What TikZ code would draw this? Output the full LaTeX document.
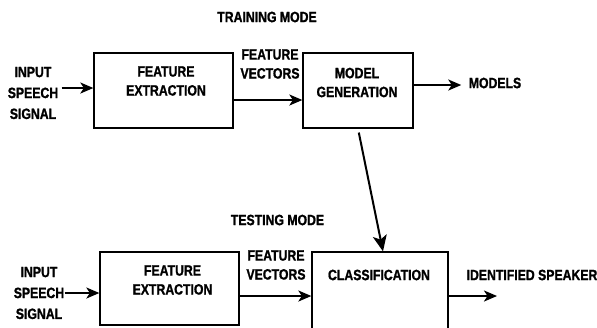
\documentclass[tikz,border=0pt]{standalone}
\usepackage{fontspec}
\setmainfont{Liberation Sans}[FakeStretch=0.82,BoldFeatures={FakeBold=1.2}]
\usetikzlibrary{arrows.meta}
\begin{document}
\begin{tikzpicture}[x=1bp,y=-1bp,>={Stealth[length=13bp,width=11bp,inset=3.5bp]},
    every node/.style={font=\fontsize{15}{19}\selectfont\bfseries,align=center},
    box node/.style={draw,line width=1.3bp,minimum width=#1,minimum height=75bp,inner sep=0pt},
    flow/.style={->,line width=2bp}]
\useasboundingbox (0,0) rectangle (597,327);
\clip (0,0) rectangle (597,327);
% training mode
\node (train) at (267,17) {TRAINING MODE};
\node[box node=139bp] (fe1) at (163.5,90.5) {};
\node[box node=110bp] (mg1) at (358,90.5) {};
\node (fe1txt) at (166,81) {FEATURE\\EXTRACTION};
\node (mg1txt) at (357,82.5) {MODEL\\GENERATION};
\node[font=\fontsize{15}{21}\selectfont\bfseries] (in1) at (33,93) {INPUT\\SPEECH\\SIGNAL};
\node (fv1) at (270,64) {FEATURE\\VECTORS};
\node (models) at (495,83) {MODELS};
\draw[flow] ([yshift=5bp]in1.east) -- ([yshift=5bp]in1.east -| fe1.west);
\draw[flow] ([yshift=-9.5bp]fe1.east) -- ([yshift=-9.5bp]fe1.east -| mg1.west);
\draw[flow,shorten >=4bp] ([yshift=5.5bp]mg1.east) -- ([yshift=5.5bp]mg1.east -| models.west);
% testing mode
\node (test) at (277.5,220) {TESTING MODE};
\node[box node=139bp,minimum height=73bp] (fe2) at (169.5,288.5) {};
\node[box node=136bp,minimum height=90bp] (cl) at (380,297) {};
\node (fe2txt) at (172.5,280) {FEATURE\\EXTRACTION};
\node (cltxt) at (379,275) {CLASSIFICATION};
\node[font=\fontsize{15}{21}\selectfont\bfseries] (in2) at (39,293) {INPUT\\SPEECH\\SIGNAL};
\node (fv2) at (276,265) {FEATURE\\VECTORS};
\node (spk) at (532,275) {IDENTIFIED SPEAKER};
\coordinate (clend) at (497,296);
\draw[flow] ([xshift=-3bp]in2.east) -- (in2.east -| fe2.west);
\draw[flow] ([yshift=-7.5bp]fe2.east) -- ([yshift=-7.5bp]fe2.east -| cl.west);
\draw[flow] (clend -| cl.east) -- (clend);
% models go to classification
\draw[flow,shorten <=4bp,>={Stealth[length=16bp,width=14bp,inset=4bp]}] (mg1.south) -- ([xshift=3bp]cl.north);
\end{tikzpicture}
\end{document}
